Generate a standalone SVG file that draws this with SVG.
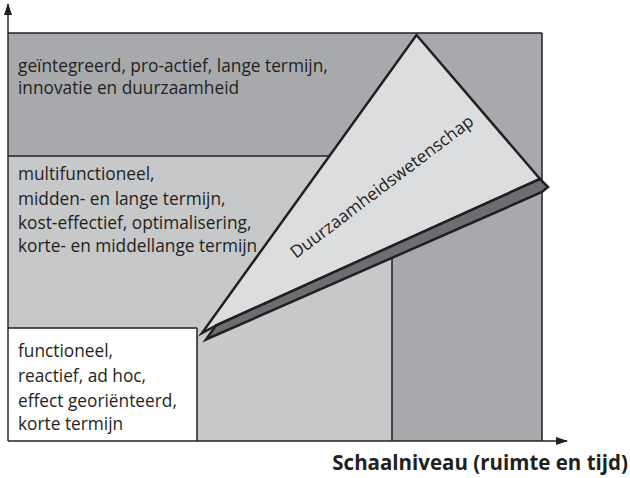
<svg xmlns="http://www.w3.org/2000/svg" width="630" height="478" viewBox="0 0 630 478">
  <style>
    .t { font-family: "Open Sans", "Noto Sans", "DejaVu Sans", sans-serif; font-size: 17.3px; fill: #231f20; }
    .b { font-family: "Open Sans", "Noto Sans", "DejaVu Sans", sans-serif; font-size: 20.5px; font-weight: bold; fill: #231f20; }
    .ln { stroke: #231f20; stroke-width: 1.5; fill: none; }
    .ax { stroke: #231f20; stroke-width: 1.4; fill: none; }
    .outline { stroke: #231f20; stroke-width: 2.5; stroke-linejoin: miter; stroke-miterlimit: 10; }
  </style>
  <defs>
    <marker id="arr" markerWidth="12" markerHeight="8" refX="11" refY="4" orient="auto" markerUnits="userSpaceOnUse">
      <path d="M0,0 L12,4 L0,8 Z" fill="#231f20"/>
    </marker>
  </defs>
  <rect width="630" height="478" fill="#ffffff"/>

  <g id="zone-integrated">
    <rect x="8" y="33" width="534" height="408" fill="#a7a9ac"/>
    <text class="t" x="18" y="72">geïntegreerd, pro-actief, lange termijn,</text>
    <text class="t" x="18" y="94">innovatie en duurzaamheid</text>
  </g>

  <g id="zone-multifunctional">
    <rect x="8" y="156" width="384" height="285" fill="#c7c8ca"/>
    <text class="t" x="18" y="180">multifunctioneel,</text>
    <text class="t" x="18" y="205">midden- en lange termijn,</text>
    <text class="t" x="18" y="229">kost-effectief, optimalisering,</text>
    <text class="t" x="18" y="252">korte- en middellange termijn</text>
  </g>

  <g id="zone-functional">
    <rect x="8" y="328" width="189" height="113" fill="#ffffff"/>
    <text class="t" x="18" y="357">functioneel,</text>
    <text class="t" x="18" y="382">reactief, ad hoc,</text>
    <text class="t" x="18" y="407">effect georiënteerd,</text>
    <text class="t" x="18" y="430">korte termijn</text>
  </g>

  <g id="borders">
    <line class="ln" x1="8" y1="33" x2="542" y2="33"/>
    <line class="ln" x1="542" y1="33" x2="542" y2="441"/>
    <line class="ln" x1="8" y1="156" x2="340" y2="156"/>
    <line class="ln" x1="392" y1="156" x2="392" y2="441"/>
    <line class="ln" x1="8" y1="328" x2="197" y2="328"/>
    <line class="ln" x1="197" y1="328" x2="197" y2="441"/>
  </g>

  <g id="duurzaamheidswetenschap">
    <polygon class="outline" fill="#dcddde" points="416.5,35 540,179 216,325.5 202,333"/>
    <polygon class="outline" fill="#6d6e71" points="216,325.5 540,179 548,187 542,192 206,339.5"/>
    <text class="t" transform="translate(296,259) rotate(-37.1)">Duurzaamheidswetenschap</text>
  </g>

  <g id="connectors">
    <line class="ax" x1="8" y1="441" x2="8" y2="4" marker-end="url(#arr)"/>
    <line class="ax" x1="8" y1="441" x2="567" y2="441" marker-end="url(#arr)"/>
  </g>

  <g id="axis-label">
    <text class="b" x="628" y="470" text-anchor="end">Schaalniveau (ruimte en tijd)</text>
  </g>
</svg>
